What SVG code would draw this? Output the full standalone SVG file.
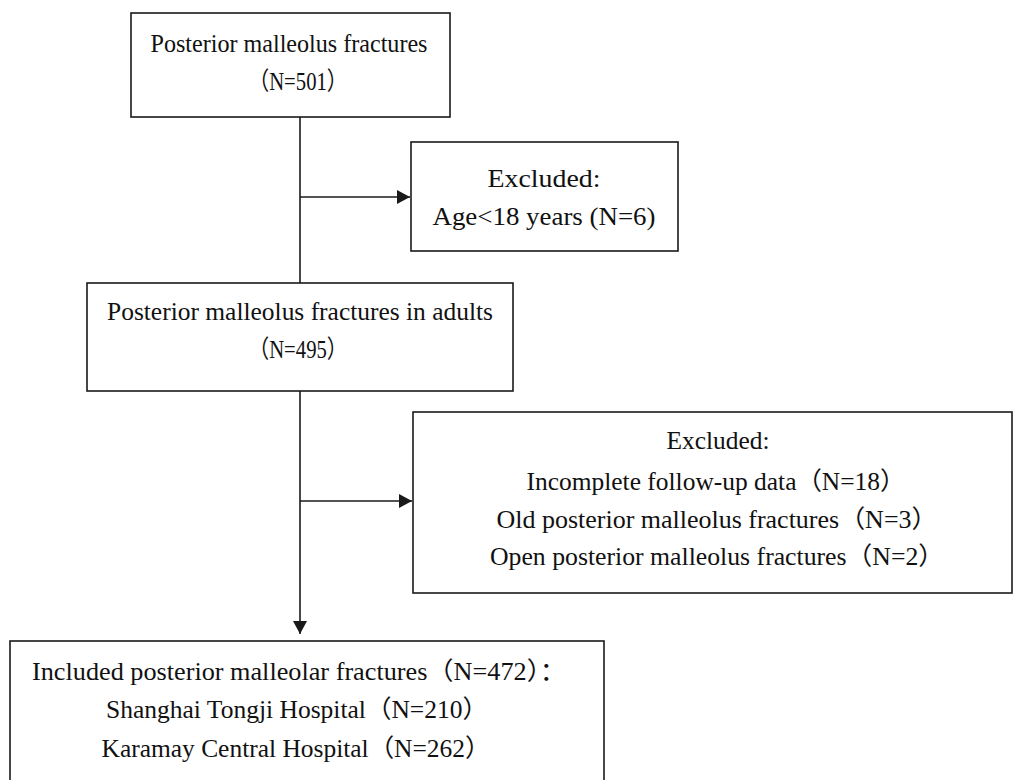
<svg xmlns="http://www.w3.org/2000/svg" width="1015" height="780" viewBox="0 0 1015 780">
<style>
.box{fill:#fff;stroke:#1a1a1a;stroke-width:1.6}
.t{font-family:"Liberation Serif","Noto Sans CJK SC",serif;font-size:25px;fill:#111;text-anchor:middle}
.c{stroke:#1a1a1a;stroke-width:1.6;fill:none}
</style>
<defs>
<marker id="ah" markerWidth="14" markerHeight="14" refX="13" refY="7" orient="auto" markerUnits="userSpaceOnUse">
<path d="M0,0 L13,7 L0,14 Z" fill="#1a1a1a"/>
</marker>
</defs>
<rect width="1015" height="780" fill="#fff"/>
<g id="connectors">
<line class="c" x1="300" y1="117" x2="300" y2="283"/>
<line class="c" x1="300" y1="197" x2="410" y2="197" marker-end="url(#ah)"/>
<line class="c" x1="300" y1="391" x2="300" y2="634" marker-end="url(#ah)"/>
<line class="c" x1="300" y1="501" x2="412" y2="501" marker-end="url(#ah)"/>
</g>
<g id="n1">
<rect class="box" x="131" y="13" width="319" height="104"/>
<text class="t" x="289" y="52" textLength="277" lengthAdjust="spacingAndGlyphs">Posterior malleolus fractures</text>
<text class="t" x="298" y="90" textLength="99" lengthAdjust="spacingAndGlyphs">（N=501）</text>
</g>
<g id="n2">
<rect class="box" x="411" y="142" width="267" height="109"/>
<text class="t" x="544" y="187" textLength="113" lengthAdjust="spacingAndGlyphs">Excluded:</text>
<text class="t" x="544" y="225" textLength="223" lengthAdjust="spacingAndGlyphs">Age&lt;18 years (N=6)</text>
</g>
<g id="n3">
<rect class="box" x="87" y="283" width="426" height="108"/>
<text class="t" x="300" y="320" textLength="386" lengthAdjust="spacingAndGlyphs">Posterior malleolus fractures in adults</text>
<text class="t" x="298" y="358" textLength="99" lengthAdjust="spacingAndGlyphs">（N=495）</text>
</g>
<g id="n4">
<rect class="box" x="413" y="412" width="599" height="181"/>
<text class="t" x="718" y="449" textLength="103" lengthAdjust="spacingAndGlyphs">Excluded:</text>
<text class="t" x="716" y="490" textLength="379" lengthAdjust="spacingAndGlyphs">Incomplete follow-up data（N=18）</text>
<text class="t" x="717" y="528" textLength="441" lengthAdjust="spacingAndGlyphs">Old posterior malleolus fractures（N=3）</text>
<text class="t" x="717" y="565" textLength="454" lengthAdjust="spacingAndGlyphs">Open posterior malleolus fractures（N=2）</text>
</g>
<g id="n5">
<rect class="box" x="10" y="641" width="594" height="150"/>
<text class="t" x="299" y="680" textLength="534" lengthAdjust="spacingAndGlyphs">Included posterior malleolar fractures（N=472）：</text>
<text class="t" x="297" y="718" textLength="382" lengthAdjust="spacingAndGlyphs">Shanghai Tongji Hospital（N=210）</text>
<text class="t" x="296" y="757" textLength="389" lengthAdjust="spacingAndGlyphs">Karamay Central Hospital（N=262）</text>
</g>
</svg>
